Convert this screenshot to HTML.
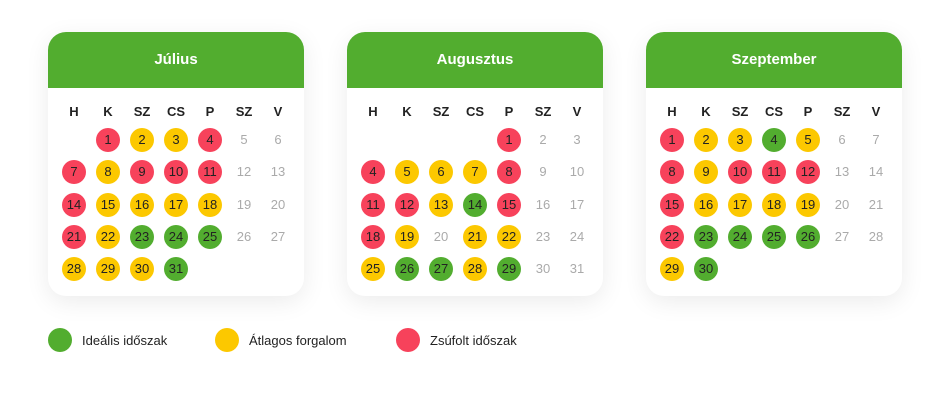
<!DOCTYPE html>
<html><head><meta charset="utf-8"><style>
body{margin:0;width:950px;height:400px;background:#fff;font-family:"Liberation Sans",sans-serif;position:relative;overflow:hidden}
.card{position:absolute;top:32px;width:256px;height:264px;background:#fff;border-radius:18px;box-shadow:0 6px 24px rgba(0,0,0,0.08);overflow:hidden}
.hdr{height:56px;background:#52ad2f;color:#fff;font-weight:bold;font-size:15px;text-align:center;line-height:56px}
.cell{position:absolute;width:24px;height:24px;margin:-12px 0 0 -12px;border-radius:50%;text-align:center;line-height:24px;font-size:13px;color:#222}
.dow{font-weight:bold;color:#222;font-size:13px}
.wk{color:#aaa}
.legend{position:absolute;top:328px;height:24px;display:flex;align-items:center;font-size:13px;color:#222}
.legend span{width:24px;height:24px;border-radius:50%;margin-right:10px;display:inline-block}
</style></head><body>
<div id="root"></div>
<div class="legend" style="left:48px"><span style="background:#52ad2f"></span>Ideális időszak</div>
<div class="legend" style="left:215px"><span style="background:#fcc800"></span>Átlagos forgalom</div>
<div class="legend" style="left:396px"><span style="background:#f7425b"></span>Zsúfolt időszak</div>
<script>
const months=["Július","Augusztus","Szeptember"];
const startDow=[1,4,0];
const daysIn=[31,31,30];
const statusJul="RYYR.RYRRR.RYYYY.RYGGG.YYYG";
const statusAug="R.RYYYR.RRYGR.RY-YY.YGGYG";
const statusSep="RYYGY.RYRRR.RYYYY.RGGGG.YG";
const statuses=[statusJul,statusAug,statusSep];
const dows=["H","K","SZ","CS","P","SZ","V"];
const cardX=[48,347,646];
const colors={G:"#52ad2f",Y:"#fcc800",R:"#f7425b"};
const root=document.getElementById('root');
months.forEach((m,mi)=>{
  const c=document.createElement('div');c.className='card';c.style.left=cardX[mi]+'px';
  
  
  const h=document.createElement('div');h.className='hdr';h.textContent=m;
  
  
  c.appendChild(h);
  dows.forEach((d,i)=>{const e=document.createElement('div');e.className='cell dow';e.textContent=d;
    e.style.left=(26+i*34)+'px';e.style.top='80px';
    
    
    c.appendChild(e);});
  const st=statuses[mi].replace(/\./g,'');let k=0;
  for(let d=1;d<=daysIn[mi];d++){
    const p=startDow[mi]+d-1,col=p%7,row=Math.floor(p/7);
    const e=document.createElement('div');e.className='cell';e.textContent=d;
    e.style.left=(26+col*34)+'px';e.style.top=(108+row*32.3)+'px';
    if(col>=5){e.classList.add('wk');}
    else{const s=st[k++];if(colors[s])e.style.background=colors[s];else e.classList.add('wk');}
    
    
    c.appendChild(e);
  }
  root.appendChild(c);
});
</script></body></html>
